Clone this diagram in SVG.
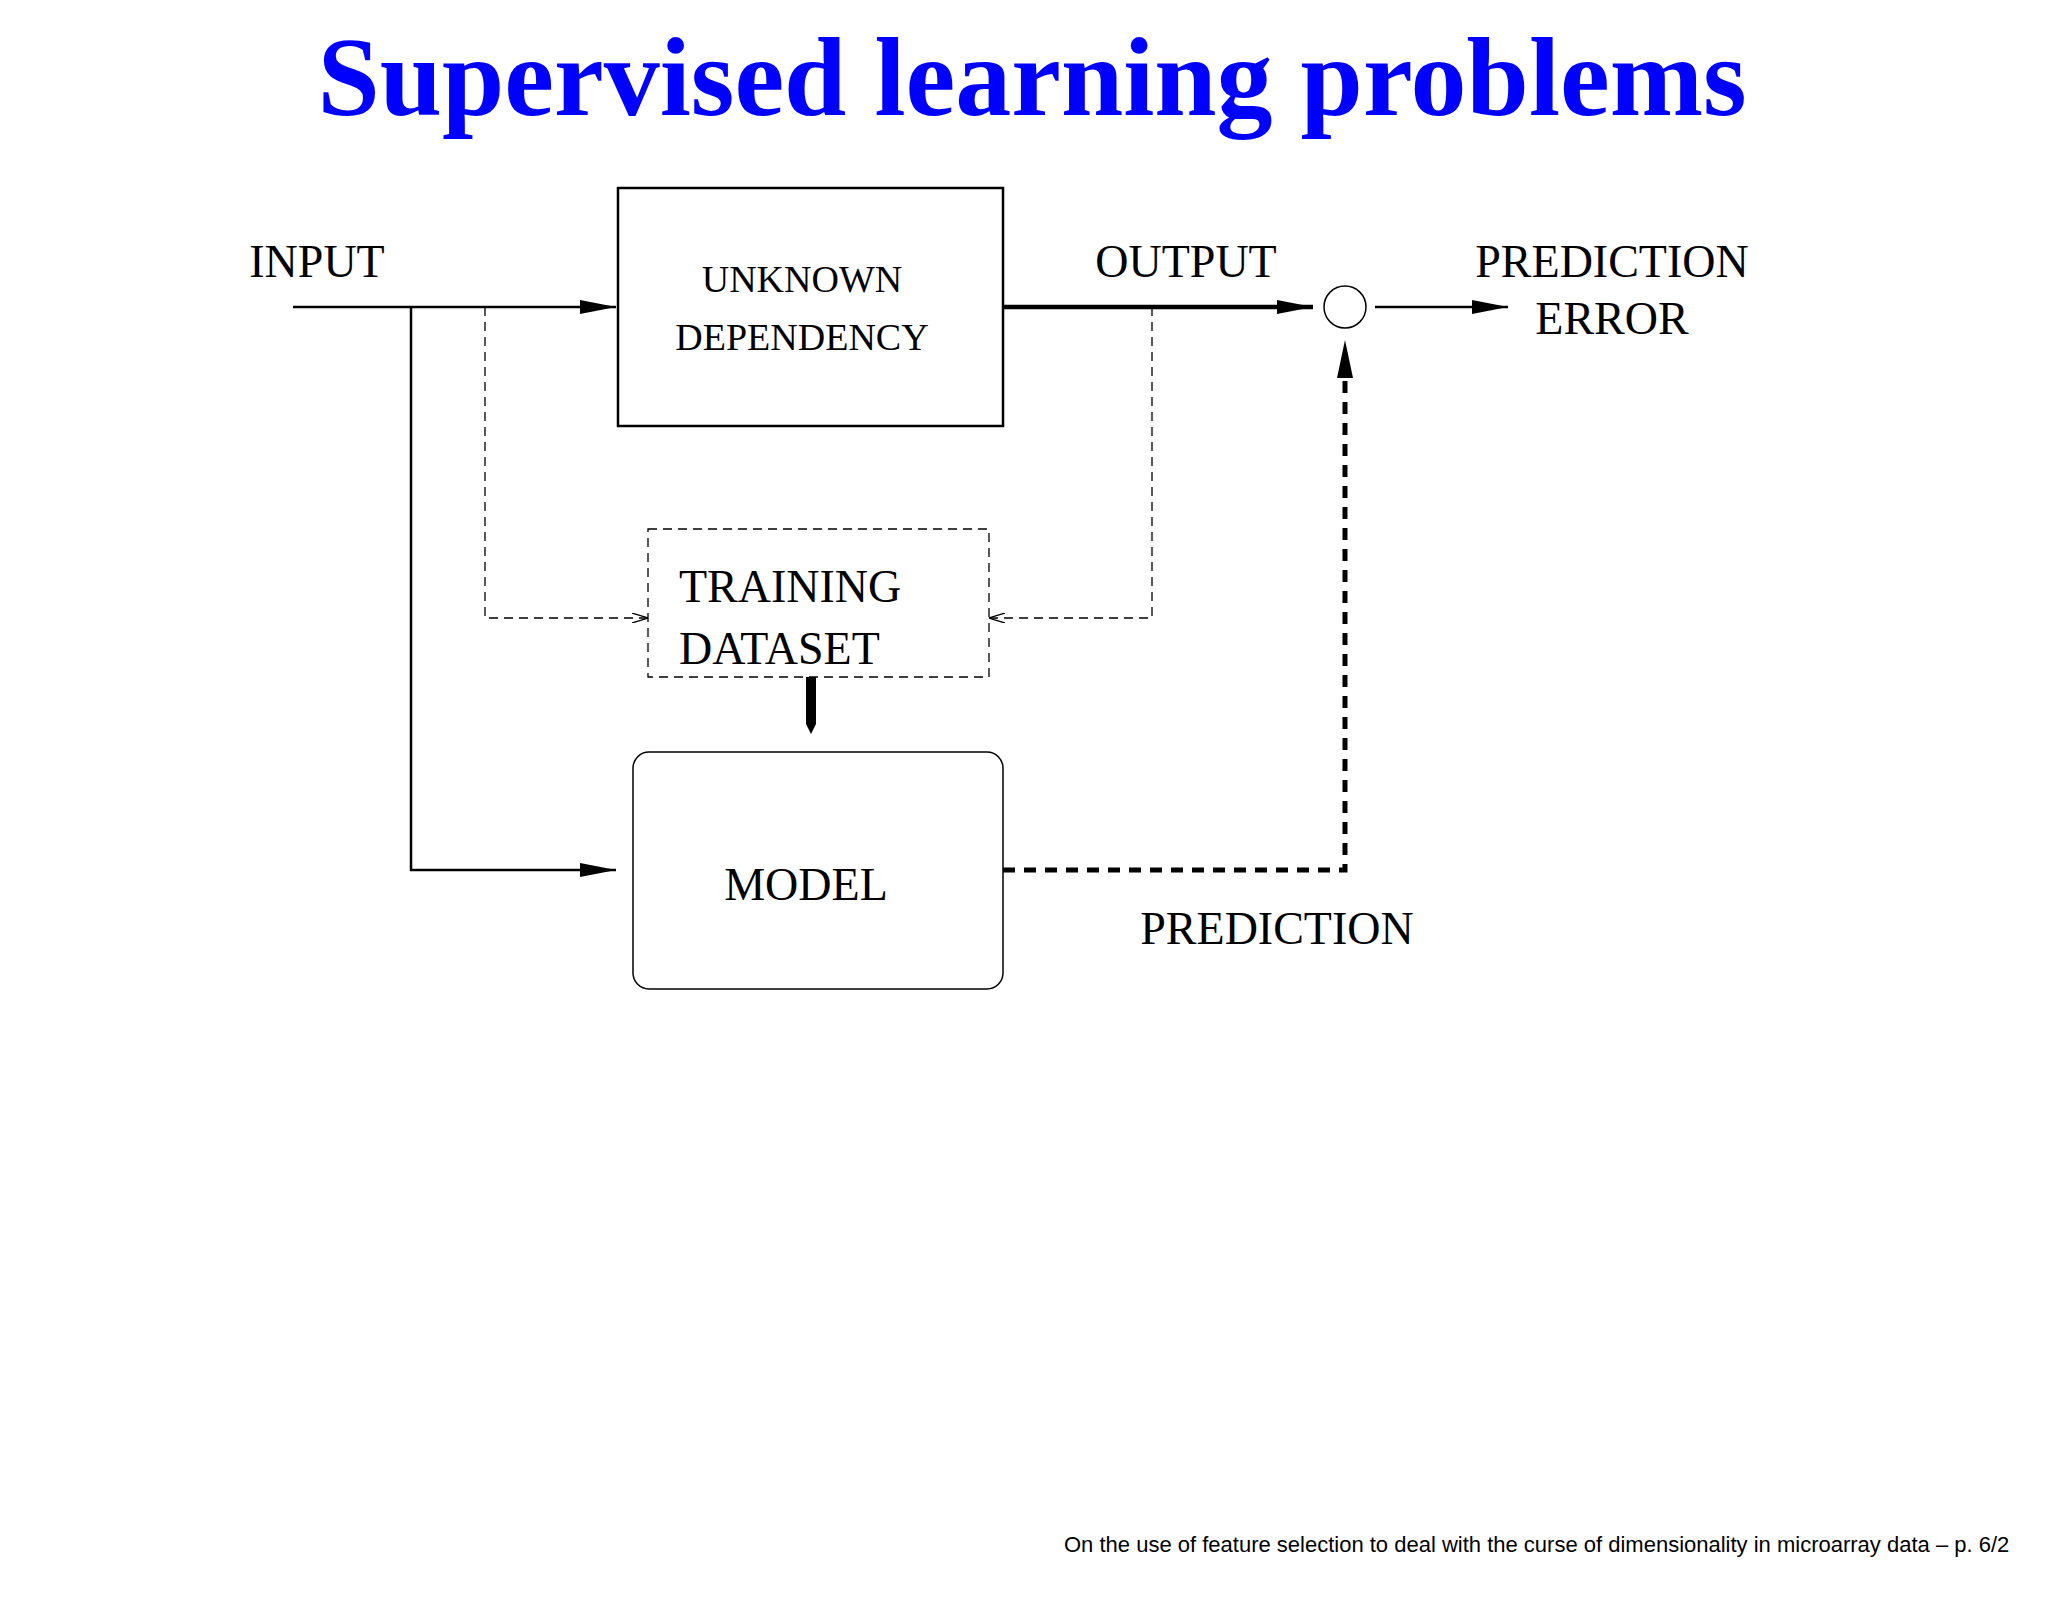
<svg xmlns="http://www.w3.org/2000/svg" width="2048" height="1617" viewBox="0 0 2048 1617">
<style>
.t{font-family:"Liberation Serif",serif;fill:#000}
.ln{stroke:#000;fill:none}
</style>
<defs>
<marker id="ah" viewBox="0 0 10 6" refX="10" refY="3" markerWidth="10" markerHeight="6" markerUnits="userSpaceOnUse" orient="auto"><path d="M0,0L10,3L0,6z" fill="#000"/></marker>
<marker id="big" viewBox="0 0 36 14" refX="36" refY="7" markerWidth="36" markerHeight="14" markerUnits="userSpaceOnUse" orient="auto"><path d="M0,0L36,7L0,14z" fill="#000"/></marker>
<marker id="open" viewBox="0 0 16 10" refX="16" refY="5" markerWidth="16" markerHeight="10" markerUnits="userSpaceOnUse" orient="auto"><path d="M0,0L16,5L0,10" fill="none" stroke="#000" stroke-width="1.3"/></marker>
</defs>
<rect width="2048" height="1617" fill="#fff"/>
<text x="1032" y="115" text-anchor="middle" font-family="Liberation Serif,serif" font-weight="bold" font-size="112" fill="#0000ff">Supervised learning problems</text>
<g id="connectors">
<path class="ln" stroke-width="2.5" d="M293,307H616" marker-end="url(#big)"/>
<path class="ln" stroke-width="2.5" d="M411,307V870H616" marker-end="url(#big)"/>
<path class="ln" stroke-width="1.3" stroke-dasharray="9,6" d="M485,307V618H648" marker-end="url(#open)"/>
<path class="ln" stroke-width="1.3" stroke-dasharray="9,6" d="M1152,307V618H989" marker-end="url(#open)"/>
<path class="ln" stroke-width="4.5" d="M1003,307H1313" marker-end="url(#big)"/>
<path class="ln" stroke-width="2.5" d="M1375,307H1508" marker-end="url(#big)"/>
<path d="M806,677H816V724L811,734L806,724Z" fill="#000"/>
<path class="ln" stroke-width="5" stroke-dasharray="12,9" d="M1003,870H1345V372"/>
<path d="M1337,378L1345,340L1353,378Z" fill="#000"/>
</g>
<g id="unknown">
<rect x="618" y="188" width="385" height="238" class="ln" stroke-width="2.5"/>
<text class="t" x="802" y="292" font-size="38" text-anchor="middle">UNKNOWN</text>
<text class="t" x="802" y="350" font-size="38" text-anchor="middle">DEPENDENCY</text>
</g>
<g id="training">
<rect x="648" y="529" width="341" height="148" class="ln" stroke-width="1.3" stroke-dasharray="9,6"/>
<text class="t" x="679" y="602" font-size="46">TRAINING</text>
<text class="t" x="679" y="664" font-size="46">DATASET</text>
</g>
<g id="model">
<rect x="633" y="752" width="370" height="237" rx="16" class="ln" stroke-width="1.5"/>
<text class="t" x="806" y="900" font-size="46" text-anchor="middle">MODEL</text>
</g>
<g id="circle"><circle cx="1345" cy="307" r="21" class="ln" stroke-width="1.5"/></g>
<g id="labels">
<text class="t" x="317" y="277" font-size="46" text-anchor="middle">INPUT</text>
<text class="t" x="1186" y="277" font-size="46" text-anchor="middle">OUTPUT</text>
<text class="t" x="1612" y="277" font-size="46" text-anchor="middle">PREDICTION</text>
<text class="t" x="1612" y="334" font-size="46" text-anchor="middle">ERROR</text>
<text class="t" x="1277" y="944" font-size="46" text-anchor="middle">PREDICTION</text>
</g>
<text x="1064" y="1552" font-family="Liberation Sans,sans-serif" font-size="22" fill="#000">On the use of feature selection to deal with the curse of dimensionality in microarray data – p. 6/2</text>
</svg>
